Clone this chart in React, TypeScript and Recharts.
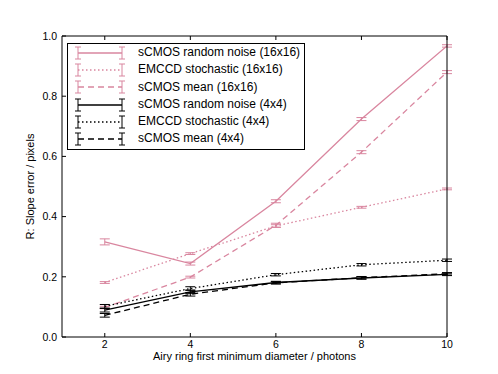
import React from 'react';
import { LineChart, Line, XAxis, YAxis, ErrorBar } from 'recharts';

const photons = [2, 4, 6, 8, 10];
const scmosRandom16 = [0.316, 0.244, 0.451, 0.724, 0.967];
const emccd16 = [0.181, 0.277, 0.369, 0.431, 0.492];
const scmosMean16 = [0.098, 0.199, 0.371, 0.614, 0.880];
const scmosRandom4 = [0.089, 0.150, 0.181, 0.196, 0.208];
const emccd4 = [0.102, 0.161, 0.207, 0.240, 0.255];
const scmosMean4 = [0.072, 0.142, 0.180, 0.197, 0.210];
const errRandom16 = [0.010, 0.005, 0.005, 0.005, 0.004];
const errEmccd16 = [0.003, 0.003, 0.004, 0.003, 0.003];
const errMean16 = [0.004, 0.003, 0.007, 0.005, 0.005];
const errSmall4 = [0.006, 0.006, 0.004, 0.004, 0.004];
const yTicks = [0, 0.2, 0.4, 0.6, 0.8, 1.0];
const xTicks = [2, 4, 6, 8, 10];

const PINK = '#d9869f';
const BLACK = '#000000';

const series = [
  { key: 'r16', name: 'sCMOS random noise (16x16)', values: scmosRandom16, err: errRandom16, color: PINK, dash: undefined as string | undefined },
  { key: 'e16', name: 'EMCCD stochastic (16x16)', values: emccd16, err: errEmccd16, color: PINK, dash: '1.5 2.5' },
  { key: 'm16', name: 'sCMOS mean (16x16)', values: scmosMean16, err: errMean16, color: PINK, dash: '6 4' },
  { key: 'r4', name: 'sCMOS random noise (4x4)', values: scmosRandom4, err: errSmall4, color: BLACK, dash: undefined as string | undefined },
  { key: 'e4', name: 'EMCCD stochastic (4x4)', values: emccd4, err: errSmall4, color: BLACK, dash: '1.5 2.5' },
  { key: 'm4', name: 'sCMOS mean (4x4)', values: scmosMean4, err: errSmall4, color: BLACK, dash: '6 4' },
];

const data = photons.map((p, i) => {
  const row: Record<string, number> = { x: p };
  series.forEach((s) => {
    row[s.key] = s.values[i];
    row[s.key + 'Err'] = s.err[i];
  });
  return row;
});

const FONT = 'Liberation Sans, Arial, sans-serif';

const LegendBox = () => (
  <div
    style={{
      position: 'absolute',
      left: 67,
      top: 43,
      border: '1px solid #000',
      background: '#fff',
      width: 238,
      padding: '0px 0 1px 0',
      fontFamily: FONT,
      fontSize: 12,
      lineHeight: '17.3px',
      boxSizing: 'border-box',
    }}
  >
    {series.map((s) => (
      <div key={s.key} style={{ display: 'flex', alignItems: 'center', height: 17.3 }}>
        <svg width={56} height={14} style={{ marginLeft: 6 }}>
          <line x1={4} y1={7} x2={48} y2={7} stroke={s.color} strokeWidth={1.3} strokeDasharray={s.dash} />
          <line x1={4} y1={1} x2={4} y2={13} stroke={s.color} strokeWidth={1} />
          <line x1={1} y1={1} x2={7} y2={1} stroke={s.color} strokeWidth={1} />
          <line x1={1} y1={13} x2={7} y2={13} stroke={s.color} strokeWidth={1} />
          <line x1={48} y1={1} x2={48} y2={13} stroke={s.color} strokeWidth={1} />
          <line x1={45} y1={1} x2={51} y2={1} stroke={s.color} strokeWidth={1} />
          <line x1={45} y1={13} x2={51} y2={13} stroke={s.color} strokeWidth={1} />
        </svg>
        <span style={{ marginLeft: 8 }}>{s.name}</span>
      </div>
    ))}
  </div>
);

export default function App() {
  return (
    <div style={{ position: 'absolute', left: 0, top: 0, width: 498, height: 374, background: '#fff' }}>
      <LineChart
        width={498}
        height={374}
        data={data}
        margin={{ top: 35, right: 50, bottom: 7, left: 0 }}
        style={{ fontFamily: FONT }}
      >
        <XAxis
          xAxisId="main"
          dataKey="x"
          type="number"
          domain={[1, 10]}
          ticks={xTicks}
          allowDataOverflow
          height={30}
          tickSize={-4}
          tickMargin={8}
          axisLine={{ stroke: '#000', strokeWidth: 1 }}
          tickLine={{ stroke: '#000' }}
          tick={{ fill: '#000', fontSize: 10.5 }}
          label={{ value: 'Airy ring first minimum diameter / photons', position: 'insideBottom', offset: 7, fill: '#000', fontSize: 11 }}
        />
        <XAxis
          xAxisId="top"
          orientation="top"
          dataKey="x"
          type="number"
          domain={[1, 10]}
          ticks={xTicks}
          height={1}
          tickSize={-4}
          tickFormatter={() => ''}
          axisLine={{ stroke: '#000', strokeWidth: 1 }}
          tickLine={{ stroke: '#000' }}
        />
        <YAxis
          yAxisId="main"
          type="number"
          domain={[0, 1]}
          ticks={yTicks}
          width={62}
          tickSize={-4}
          tickMargin={9}
          tickFormatter={(v: number) => v.toFixed(1)}
          axisLine={{ stroke: '#000', strokeWidth: 1 }}
          tickLine={{ stroke: '#000' }}
          tick={{ fill: '#000', fontSize: 10.5 }}
          label={{ value: 'R: Slope error / pixels', angle: -90, position: 'insideLeft', offset: 30, fill: '#000', fontSize: 11, style: { textAnchor: 'middle' } }}
        />
        <YAxis
          yAxisId="right"
          orientation="right"
          type="number"
          domain={[0, 1]}
          ticks={yTicks}
          width={1}
          tickSize={-4}
          tickFormatter={() => ''}
          axisLine={{ stroke: '#000', strokeWidth: 1 }}
          tickLine={{ stroke: '#000' }}
        />
        {series.map((s) => (
          <Line
            key={s.key}
            xAxisId="main"
            yAxisId="main"
            dataKey={s.key}
            name={s.name}
            stroke={s.color}
            strokeWidth={1.3}
            strokeDasharray={s.dash}
            dot={false}
            activeDot={false}
            isAnimationActive={false}
          >
            <ErrorBar dataKey={s.key + 'Err'} width={5} stroke={s.color} strokeWidth={1} direction="y" />
          </Line>
        ))}
      </LineChart>
      <LegendBox />
    </div>
  );
}
